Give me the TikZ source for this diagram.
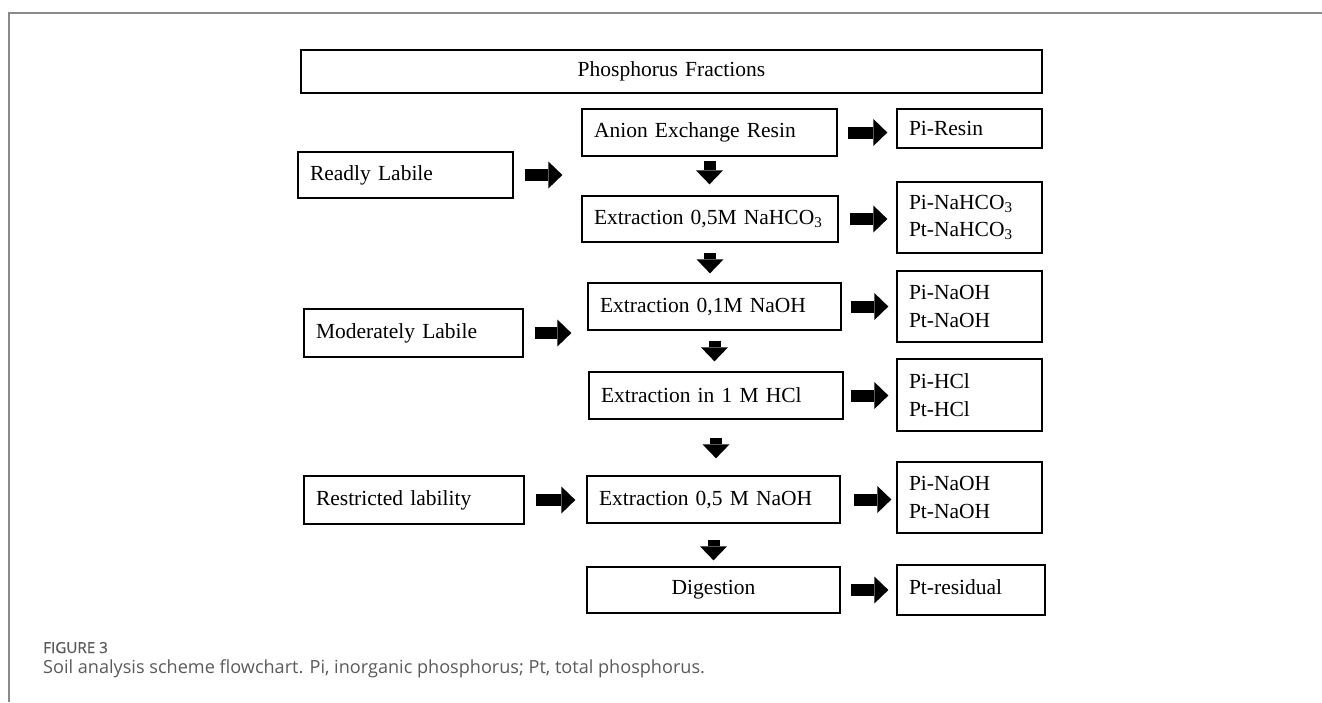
\documentclass[tikz,border=0pt]{standalone}
\usepackage{fontspec}
\setmainfont{Liberation Serif}
\newfontfamily\capfont{Open Sans}
\newfontfamily\capfontsb[FakeBold=0.6]{Open Sans}
\usetikzlibrary{arrows.meta}
\definecolor{capgray}{HTML}{5A5A5A}
\definecolor{framegray}{HTML}{8A8A8A}
\tikzset{
  fracb/.style={draw=black, line width=1.3pt, inner xsep=12pt, inner ysep=0pt,
    align=left, font=\fontsize{21.5}{27.5}\selectfont},
  fracc/.style={fracb, align=center},
  blk/.style={-{Triangle[length=14pt, width=27pt, line width=0pt]}, line width=12pt, draw=black},
  capl/.style={anchor=base west, inner sep=0pt, text=capgray},
}

\begin{document}
\begin{tikzpicture}[x=1pt, y=-1pt]
    \useasboundingbox (0,0) rectangle (1322,702);
    % frame
    \draw[framegray, line width=1.6pt] (9,702) -- (9,13) -- (1322,13);
    % title
    \node[fracc, text width=717pt, minimum height=43pt] (title) at (671.5,71.5) {Phosphorus Fractions};
    % lability classes
    \node[fracb, text width=191pt, minimum height=46pt] (readly) at (405.5,175) {Readly Labile};
    \node[fracb, text width=195pt, minimum height=48pt] (moder) at (413.5,333) {Moderately Labile};
    \node[fracb, text width=196pt, minimum height=48pt] (restr) at (414,500) {Restricted lability};
    % extraction steps
    \node[fracb, text width=231pt, minimum height=47pt] (anion) at (709.5,132.5) {Anion Exchange Resin};
    \node[fracb, text width=232pt, minimum height=46pt] (nahco) at (710,219) {Extraction 0,5M NaHCO\textsubscript{3}};
    \node[fracb, text width=229pt, minimum height=47pt] (naohA) at (714.5,306.5) {Extraction 0,1M NaOH};
    \node[fracb, text width=230pt, minimum height=47pt] (hcl) at (716,395.5) {Extraction in 1 M HCl};
    \node[fracb, text width=229pt, minimum height=47pt] (naohB) at (713.5,499.5) {Extraction 0,5 M NaOH};
    \node[fracc, text width=229pt, minimum height=46pt] (digest) at (713.5,590) {Digestion};
    % fractions
    \node[fracb, text width=121pt, minimum height=39pt] (piresin) at (969.5,128.5) {Pi-Resin};
    \node[fracb, text width=121pt, minimum height=71pt] (pinahco) at (969.5,217.5) {Pi-NaHCO\textsubscript{3}\\Pt-NaHCO\textsubscript{3}};
    \node[fracb, text width=121pt, minimum height=71pt] (pinaohA) at (969.5,306.5) {Pi-NaOH\\Pt-NaOH};
    \node[fracb, text width=121pt, minimum height=72pt] (pihcl) at (969.5,395) {Pi-HCl\\Pt-HCl};
    \node[fracb, text width=121pt, minimum height=71pt] (pinaohB) at (969.5,497.5) {Pi-NaOH\\Pt-NaOH};
    \node[fracb, text width=124pt, minimum height=50pt, text depth=6pt] (ptres) at (971,590) {Pt-residual};
    % classes to steps
    \draw[blk, shorten <=11pt, shorten >=19pt] (readly.east) -- (readly.east -| anion.west);
    \draw[blk, shorten <=11pt, shorten >=16pt] (moder.east) -- (moder.east -| naohA.west);
    \draw[blk, shorten <=11pt, shorten >=11pt] (restr.east) -- (restr.east -| naohB.west);
    % steps to fractions
    \draw[blk, shorten <=10pt, shorten >=9pt] (anion.east) -- (anion.east -| piresin.west);
    \draw[blk, shorten <=11pt, shorten >=9pt] (nahco.east) -- (nahco.east -| pinahco.west);
    \draw[blk, shorten <=9pt, shorten >=8pt] (naohA.east) -- (naohA.east -| pinaohA.west);
    \draw[blk, shorten <=7pt, shorten >=8pt] (hcl.east) -- (hcl.east -| pihcl.west);
    \draw[blk, shorten <=13pt, shorten >=5pt] (naohB.east) -- (naohB.east -| pinaohB.west);
    \draw[blk, shorten <=10pt, shorten >=8pt] (digest.east) -- (digest.east -| ptres.west);
    % sequence
    \draw[blk, shorten <=4pt, shorten >=11pt] (anion.south) -- (anion.south |- nahco.north);
    \draw[blk, shorten <=10pt, shorten >=9pt] (nahco.south) -- (nahco.south |- naohA.north);
    \draw[blk, shorten <=10pt, shorten >=10pt] (naohA.south) -- (naohA.south |- hcl.north);
    \draw[blk, shorten <=18pt, shorten >=17pt] (hcl.south) -- (hcl.south |- naohB.north);
    \draw[blk, shorten <=16pt, shorten >=6pt] (naohB.south) -- (naohB.south |- digest.north);
    % caption
    \node[capl, font=\capfontsb\fontsize{15.2}{17}\selectfont] (figno) at (43,653) {FIGURE 3};
    \node[capl, font=\capfont\fontsize{18.1}{21}\selectfont] (figcap) at (43,673) {Soil analysis scheme flowchart. Pi, inorganic phosphorus; Pt, total phosphorus.};
\end{tikzpicture}
\end{document}
